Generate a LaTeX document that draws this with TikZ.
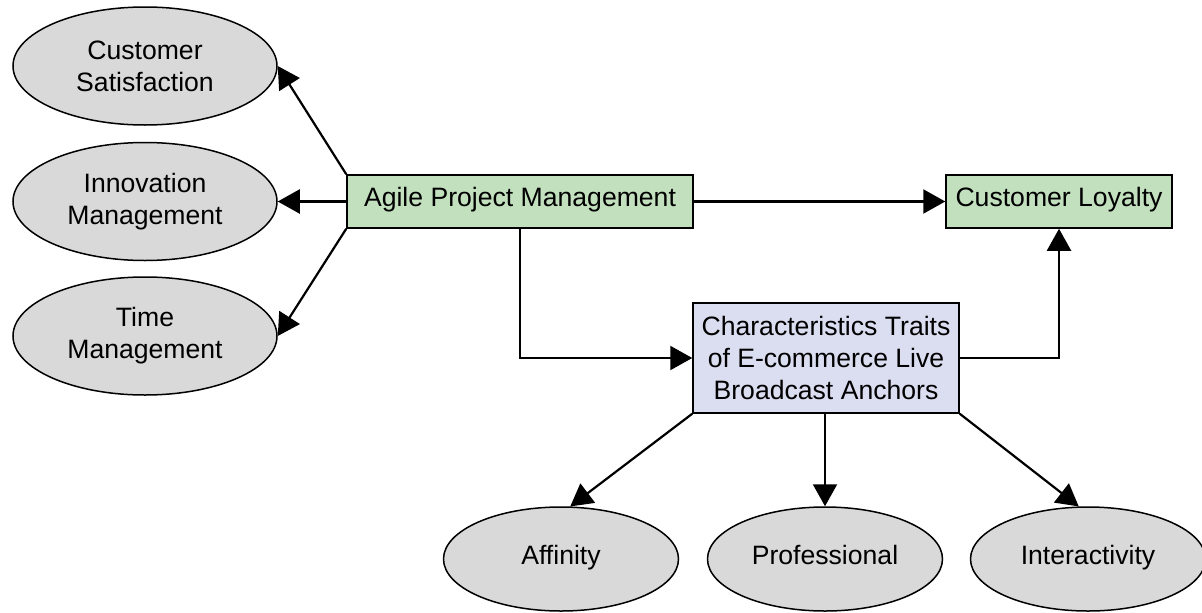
\documentclass[tikz,border=0pt]{standalone}
\usepackage{fontspec}
\setmainfont{Liberation Sans}
\usetikzlibrary{shapes.geometric,arrows.meta}
\definecolor{boxgreen}{RGB}{194,224,190}
\definecolor{boxlav}{RGB}{219,221,240}
\definecolor{ellgray}{RGB}{217,217,217}
\tikzset{
  txt/.style={font=\fontsize{26.6pt}{32pt}\selectfont, align=center, text=black},
  oneline/.style={text height=1.2em, text depth=0.2em},
  ell/.style={txt, ellipse, draw=black, line width=1.5pt, fill=ellgray, inner sep=0pt},
  sideell/.style={ell, minimum width=264pt, minimum height=118pt},
  botell/.style={ell, oneline, minimum width=235pt, minimum height=104pt},
  greenbox/.style={txt, oneline, rectangle, draw=black, line width=1.5pt, fill=boxgreen, inner sep=0pt, minimum height=53pt},
  lavbox/.style={txt, rectangle, draw=black, line width=1.5pt, fill=boxlav, inner sep=0pt},
  conn/.style={draw=black, line width=2.2pt, -{Triangle[length=22pt,width=24pt]}}
}
\begin{document}
\begin{tikzpicture}[x=1pt,y=-1pt]
\useasboundingbox (0,0) rectangle (1202,613);
% left ellipses
\node[sideell] (cs) at (145,66) {Customer\\Satisfaction};
\node[sideell] (inn) at (145,201.5) {Innovation\\Management};
\node[sideell] (tm) at (145,336) {Time\\Management};
% boxes
\node[greenbox, minimum width=346pt] (agile) at (520,201.5) {Agile Project Management};
\node[greenbox, minimum width=226pt] (loy) at (1059,201.5) {Customer Loyalty};
\node[lavbox, minimum width=266pt, minimum height=110pt] (char) at (826,358) {Characteristics Traits\\of E-commerce Live\\Broadcast Anchors};
% bottom ellipses
\node[botell] (aff) at (561,559) {Affinity};
\node[botell] (pro) at (825,559) {Professional};
\node[botell] (int) at (1088,559) {Interactivity};
% connectors
\draw[conn] (agile.north west) -- (cs.east);
\draw[conn] (agile.west) -- (inn.east);
\draw[conn] (agile.south west) -- (tm.east);
\draw[conn] (agile.east) -- (loy.west);
\draw[conn] (agile.south) |- (char.west);
\draw[conn] (char.east) -| (loy.south);
\draw[conn] (char.south west) -- (aff.80);
\draw[conn] (char.south -| pro.north) -- (pro.north);
\draw[conn] (char.south east) -- (int.100);
\end{tikzpicture}
\end{document}
